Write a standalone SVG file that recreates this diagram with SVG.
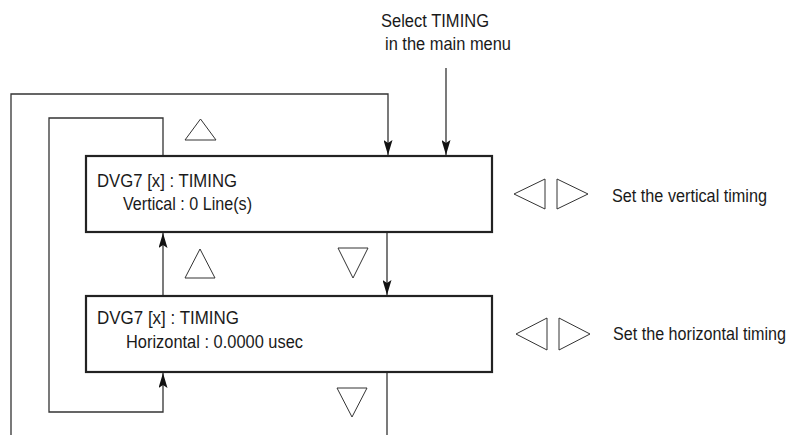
<svg xmlns="http://www.w3.org/2000/svg" width="791" height="435" viewBox="0 0 791 435">
<style>
text{font-family:"Liberation Sans Narrow","Liberation Sans",Arial,sans-serif;font-size:16px;fill:#1a1a1a}
.box{fill:#fff;stroke:#222;stroke-width:2.2}
.conn{fill:none;stroke:#333;stroke-width:1.3}
.tri{fill:#fff;stroke:#333;stroke-width:1}
</style>
<defs>
<marker id="ah" viewBox="0 0 15 9" markerWidth="15" markerHeight="9" refX="15" refY="4.5" orient="auto" markerUnits="userSpaceOnUse">
<path d="M0,0 L15,4.5 L0,9 L3,4.5 Z" fill="#111"/>
</marker>
</defs>
<rect width="791" height="435" fill="#fff"/>
<g id="connectors">
<path class="conn" d="M11,435 L11,94 L388,94 L388,155" marker-end="url(#ah)"/>
<path class="conn" d="M446,68 L446,155" marker-end="url(#ah)"/>
<path class="conn" d="M163,156 L163,118 L49,118 L49,412 L163,412 L163,373" marker-end="url(#ah)"/>
<path class="conn" d="M163,296 L163,233" marker-end="url(#ah)"/>
<path class="conn" d="M387,232 L387,295" marker-end="url(#ah)"/>
<path class="conn" d="M387,372 L387,435"/>
</g>
<g id="start-label">
<text transform="translate(381,27) scale(1,1.18)" textLength="108" lengthAdjust="spacingAndGlyphs">Select TIMING</text>
<text transform="translate(385,50) scale(1,1.18)" textLength="126" lengthAdjust="spacingAndGlyphs">in the main menu</text>
</g>
<g id="vertical-timing">
<rect class="box" x="86" y="156" width="406" height="76"/>
<text transform="translate(97,187) scale(1,1.18)" textLength="140" lengthAdjust="spacingAndGlyphs">DVG7 [x] : TIMING</text>
<text transform="translate(123,210) scale(1,1.18)" textLength="129" lengthAdjust="spacingAndGlyphs">Vertical : 0 Line(s)</text>
</g>
<g id="horizontal-timing">
<rect class="box" x="86" y="296" width="406" height="76"/>
<text transform="translate(97,324) scale(1,1.18)" textLength="142" lengthAdjust="spacingAndGlyphs">DVG7 [x] :  TIMING</text>
<text transform="translate(126,348) scale(1,1.18)" textLength="177" lengthAdjust="spacingAndGlyphs">Horizontal : 0.0000 usec</text>
</g>
<g id="nav-buttons">
<polygon class="tri" points="185,140 216,140 200.5,119"/>
<polygon class="tri" points="185,278 215,278 200,249"/>
<polygon class="tri" points="338,248 368,248 353,278"/>
<polygon class="tri" points="337,388 367,388 352,417"/>
</g>
<g id="vertical-adjust">
<polygon class="tri" points="514,194 545,179 545,209"/>
<polygon class="tri" points="557,179 557,209 588,194"/>
<text transform="translate(612,202) scale(1,1.18)" textLength="155" lengthAdjust="spacingAndGlyphs">Set the vertical timing</text>
</g>
<g id="horizontal-adjust">
<polygon class="tri" points="516,334 547,318 547,350"/>
<polygon class="tri" points="559,318 559,350 590,334"/>
<text transform="translate(613,340) scale(1,1.18)" textLength="173" lengthAdjust="spacingAndGlyphs">Set the horizontal timing</text>
</g>
</svg>
